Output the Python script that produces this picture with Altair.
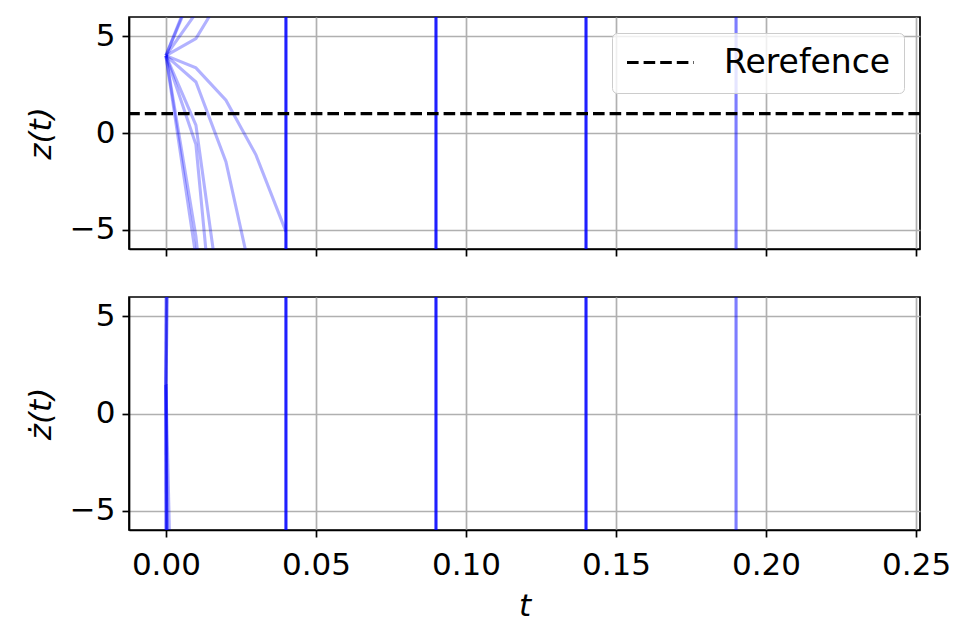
import altair as alt
import pandas as pd

# ---------------- data ----------------
t_grid = [0.0, 0.01, 0.02, 0.03, 0.04]
z_traj = [
    [4.0, 3.37, 1.70, -1.13, -5.1],
    [4.0, 2.64, -1.48, -8.5],
    [4.0, 0.41, -10.8],
    [4.0, -0.6, -17.0],
    [4.0, -5.35, -20.0],
    [4.0, -6.4, -25.0],
    [4.0, 4.88, 7.45],
    [4.0, 7.7],
    [4.0, 7.9],
    [4.0, 6.2, 9.0],
]
zdot_traj = [
    [1.5, -63.0],
    [1.5, -136.0],
    [1.5, -359.0],
    [1.5, -460.0],
    [1.5, -935.0],
    [1.5, -1040.0],
    [1.5, 88.0],
    [1.5, 370.0],
    [1.5, 390.0],
    [1.5, 220.0],
]
blowup_t = [0.04, 0.09, 0.14, 0.19]
blowup_alpha = [0.88, 0.88, 0.88, 0.51]
ref_value = [1.0]
ref_label = ["Rerefence"]
x_ticks = [0.0, 0.05, 0.10, 0.15, 0.20, 0.25]
y_ticks = [-5, 0, 5]
x_domain = [-0.0123, 0.2513]
y_domain = [-6, 6]

# ---------------- tables ----------------
def to_long(trajs, name):
    rows = []
    for k, tr in enumerate(trajs):
        for i, v in enumerate(tr):
            rows.append({"t": t_grid[i], name: v, "run": k})
    return pd.DataFrame(rows)

z_df = to_long(z_traj, "z")
zd_df = to_long(zdot_traj, "zd")
rule_df = pd.DataFrame({"t": blowup_t, "a": blowup_alpha})
ref_df = pd.DataFrame({"z": ref_value, "series": ref_label})

W, H = 791, 232
FONT = "DejaVu Sans"
FS = 31

xs = alt.Scale(domain=x_domain, nice=False, zero=False)
ys = alt.Scale(domain=y_domain, nice=False, zero=False)

x_top = alt.X("t:Q", scale=xs, axis=alt.Axis(values=x_ticks, labels=False, title=None))
x_bot = alt.X("t:Q", scale=xs, axis=alt.Axis(values=x_ticks, format=".2f", title="t",
                                             titleFontStyle="italic", labelPadding=13,
                                             titlePadding=11))

# ---------------- top panel ----------------
top_lines = alt.Chart(z_df).mark_line(color="#0000ff", opacity=0.3, strokeWidth=3.1, clip=True).encode(
    x=x_top,
    y=alt.Y("z:Q", scale=ys, axis=alt.Axis(values=y_ticks, title="z(t)", titleFontStyle="italic")),
    detail="run:N",
)
top_rules = alt.Chart(rule_df).mark_rule(color="#0000ff", strokeWidth=3.1).encode(
    x=alt.X("t:Q", scale=xs),
    opacity=alt.Opacity("a:Q", scale=None, legend=None),
)
ref_line = alt.Chart(ref_df).mark_rule(color="black", strokeWidth=3.1).encode(
    y=alt.Y("z:Q", scale=ys),
    strokeDash=alt.StrokeDash(
        "series:N",
        scale=alt.Scale(domain=ref_label, range=[[11.6, 5]]),
        legend=alt.Legend(
            orient="top-right", offset=16, title=None,
            symbolType="stroke", symbolSize=4489, symbolStrokeWidth=3.1,
            symbolStrokeColor="black", symbolDash=[11.6, 5],
            labelFontSize=33, labelFont=FONT, labelColor="black", labelOffset=28,
            labelLimit=400,
            padding=13, fillColor="rgba(255,255,255,0.8)", strokeColor="#cccccc",
            cornerRadius=5, clipHeight=33,
        ),
    ),
)
top = alt.layer(top_lines, top_rules, ref_line).properties(width=W, height=H)

# ---------------- bottom panel ----------------
bot_lines = alt.Chart(zd_df).mark_line(color="#0000ff", opacity=0.3, strokeWidth=3.1, clip=True).encode(
    x=x_bot,
    y=alt.Y("zd:Q", scale=ys, axis=alt.Axis(values=y_ticks, title="ż(t)", titleFontStyle="italic")),
    detail="run:N",
)
bot_rules = alt.Chart(rule_df).mark_rule(color="#0000ff", strokeWidth=3.1).encode(
    x=alt.X("t:Q", scale=xs),
    opacity=alt.Opacity("a:Q", scale=None, legend=None),
)
bottom = alt.layer(bot_lines, bot_rules).properties(width=W, height=H + 1)

chart = (
    alt.vconcat(top, bottom, spacing=36)
    .resolve_scale(strokeDash="independent")
    .properties(padding={"left": 16, "top": 6, "right": 5, "bottom": 5})
    .configure(font=FONT)
    .configure_view(stroke="black", strokeWidth=1.7)
    .configure_axis(
        labelFont=FONT, titleFont=FONT, labelFontSize=FS, titleFontSize=FS,
        labelColor="black", titleColor="black", titleFontWeight="normal",
        domainColor="black", domainWidth=1.7, tickColor="black", tickWidth=1.7, tickSize=7,
        gridColor="#b0b0b0", gridWidth=1.7, labelPadding=7, titlePadding=12,
        labelFlush=False,
    )
)

chart.save("out.html", embed_options={"renderer": "svg", "actions": False})
